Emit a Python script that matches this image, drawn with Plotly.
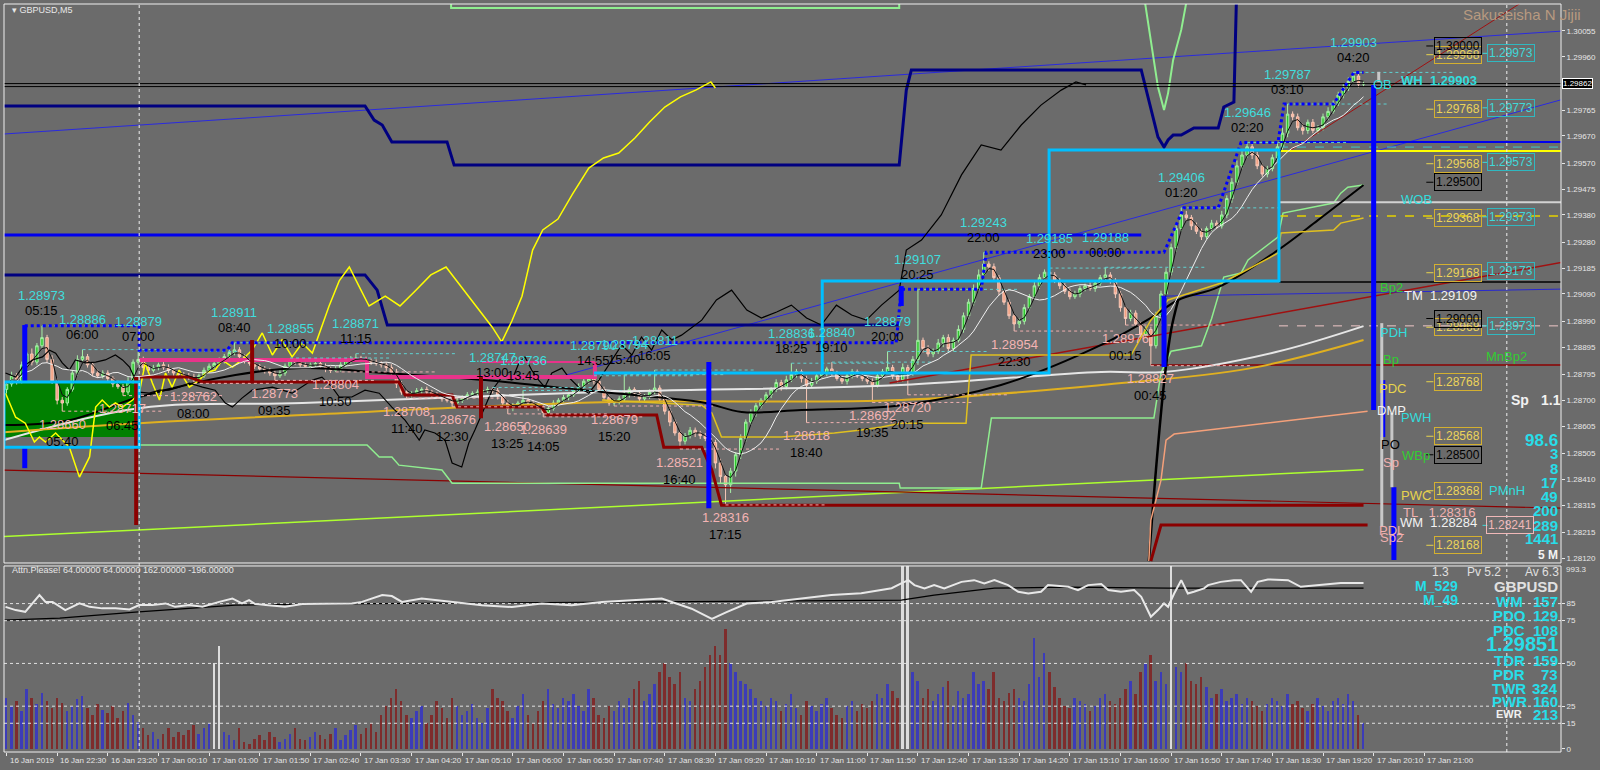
import plotly.graph_objects as go
import pandas as pd

BASE = 1.28
PT = 1e-5


def P(v):
    return BASE + v * PT


# ---------------- candle data (points above 1.28000), bar 0 = 16 Jan 21:40, M5 ----------------
first_open = 740
closes = [
    760, 790, 770, 830, 870, 840, 900, 930, 850, 770,
    700, 690, 740, 800, 850, 860, 830, 800, 790, 800,
    780, 760, 750, 730, 770, 840, 850, 820, 810, 820,
    830, 820, 810, 800, 795, 790, 785, 775, 790, 810,
    825, 835, 845, 860, 875, 885, 860, 845, 835, 825,
    815, 810, 800, 790, 800, 825, 845, 840, 830, 825,
    830, 835, 825, 815, 810, 815, 830, 845, 850, 855,
    850, 845, 840, 835, 830, 820, 800, 760, 730, 720,
    725, 735, 740, 730, 720, 715, 705, 700, 690, 700,
    710, 720, 725, 730, 735, 740, 735, 715, 690, 670,
    680, 690, 700, 690, 680, 670, 655, 670, 690, 700,
    710, 720, 735, 750, 770, 780, 770, 740, 710, 690,
    695, 705, 720, 740, 725, 705, 715, 730, 745, 705,
    660, 620, 580, 550, 570, 590, 580, 570, 560, 545,
    470, 420, 390, 440, 500, 560, 620, 655, 680, 700,
    720, 740, 765, 750, 775, 795, 805, 780, 755, 770,
    790, 800, 815, 800, 780, 770, 790, 805, 790, 780,
    770, 755, 790, 805, 820, 790, 775, 820, 800, 850,
    920, 890, 870, 880, 910, 930, 890, 920, 960, 1010,
    1060, 1110, 1160, 1200, 1190, 1150, 1100, 1060, 1010, 980,
    990, 1040, 1080, 1120, 1150, 1170, 1160, 1140, 1120, 1100,
    1080, 1090, 1110, 1120, 1110, 1130, 1150, 1160, 1140, 1090,
    1040, 1000, 1020, 980, 940, 960, 900, 1010, 1090, 1170,
    1260, 1330, 1380, 1370, 1340, 1320, 1300, 1330, 1350, 1340,
    1380, 1440, 1500, 1560, 1600, 1630, 1600, 1560, 1530, 1550,
    1590, 1630, 1680, 1750, 1740, 1700, 1690, 1720, 1690, 1700,
    1740, 1760, 1790, 1820, 1845, 1870, 1890, 1860, 1862,
]
wick_up = [
    10, 15, 10, 12, 8, 20, 10, 43, 10, 15,
    10, 12, 8, 10, 15, 26, 10, 8, 12, 10,
    10, 8, 12, 10, 15, 10, 29, 10, 8, 10,
    8, 10, 12, 8, 10, 8, 10, 12, 8, 10,
    10, 8, 12, 10, 15, 26, 10, 8, 10, 8,
    8, 10, 8, 10, 12, 10, 10, 8, 10, 8,
    8, 10, 8, 10, 8, 10, 10, 8, 12, 16,
    8, 10, 8, 10, 8, 10, 12, 15, 10, 8,
    8, 10, 8, 10, 8, 10, 8, 10, 8, 10,
    8, 10, 8, 10, 8, 10, 7, 10, 8, 10,
    10, 8, 36, 8, 10, 8, 10, 8, 10, 8,
    10, 8, 10, 12, 10, 10, 10, 8, 10, 8,
    8, 10, 74, 10, 8, 10, 8, 10, 66, 10,
    10, 12, 10, 8, 10, 12, 10, 8, 10, 8,
    10, 15, 10, 12, 10, 15, 10, 12, 10, 8,
    10, 8, 12, 10, 15, 41, 10, 8, 10, 12,
    10, 12, 8, 25, 8, 10, 12, 10, 8, 10,
    8, 10, 12, 10, 59, 10, 8, 15, 10, 12,
    187, 10, 12, 10, 15, 10, 12, 10, 15, 12,
    12, 15, 20, 43, 10, 12, 10, 8, 10, 8,
    10, 12, 10, 15, 12, 10, 15, 10, 8, 10,
    10, 12, 10, 8, 12, 10, 10, 28, 10, 8,
    10, 8, 12, 10, 8, 12, 10, 15, 12, 15,
    15, 20, 26, 15, 10, 12, 10, 8, 12, 10,
    15, 12, 15, 20, 15, 16, 10, 12, 8, 10,
    12, 15, 20, 37, 10, 12, 15, 10, 12, 10,
    12, 15, 10, 12, 15, 15, 13, 10, 8,
]
wick_dn = [
    15, 10, 12, 8, 10, 12, 10, 8, 12, 10,
    15, 30, 10, 8, 10, 8, 10, 12, 8, 10,
    10, 12, 8, 13, 10, 8, 10, 12, 10, 8,
    10, 8, 10, 12, 10, 8, 10, 13, 10, 8,
    8, 10, 8, 10, 8, 10, 12, 10, 8, 10,
    10, 12, 10, 17, 8, 10, 8, 10, 12, 10,
    10, 8, 10, 12, 10, 6, 10, 8, 10, 8,
    10, 8, 10, 8, 10, 12, 10, 15, 10, 12,
    10, 8, 10, 12, 10, 8, 10, 8, 14, 10,
    10, 8, 10, 8, 10, 8, 10, 12, 10, 20,
    10, 8, 10, 12, 10, 8, 16, 10, 8, 10,
    8, 10, 8, 10, 8, 10, 12, 10, 8, 10,
    11, 10, 8, 10, 12, 10, 8, 10, 8, 12,
    12, 15, 10, 29, 12, 10, 15, 12, 10, 15,
    20, 25, 74, 30, 20, 15, 12, 10, 15, 10,
    10, 12, 10, 15, 10, 8, 12, 15, 137, 10,
    10, 8, 12, 10, 8, 10, 12, 10, 8, 10,
    10, 63, 8, 10, 8, 12, 10, 8, 80, 10,
    20, 15, 10, 12, 10, 15, 12, 10, 8, 12,
    10, 12, 10, 8, 15, 12, 15, 10, 12, 26,
    15, 12, 10, 8, 12, 10, 8, 10, 12, 10,
    10, 8, 12, 10, 8, 12, 10, 8, 12, 15,
    15, 24, 10, 12, 15, 10, 73, 10, 12, 15,
    12, 15, 10, 12, 15, 10, 12, 10, 8, 12,
    10, 12, 15, 10, 12, 10, 15, 12, 10, 12,
    10, 12, 10, 15, 12, 10, 15, 12, 10, 12,
    10, 12, 8, 10, 12, 10, 8, 12, 10,
]
volumes = [
    30, 25, 28, 22, 35, 30, 26, 33, 28, 24,
    30, 27, 22, 25, 29, 31, 24, 20, 26, 23,
    21, 25, 18, 22, 27, 20, 16, 12, 8, 10,
    6, 9, 12, 7, 10, 8, 11, 14, 9, 12,
    15, 50, 60, 10, 8, 5, 12, 4, 3, 6,
    8, 5, 10, 7, 4, 6, 9, 12, 6, 5,
    7, 10, 8, 6, 9, 12, 5, 8, 11, 14,
    9, 12, 15, 10, 20, 25, 30, 35, 28, 20,
    18, 22, 25, 15, 20, 28, 24, 18, 30, 25,
    20, 22, 26, 18, 15, 24, 35, 30, 28, 22,
    18, 25, 32, 20, 15, 22, 28, 35, 26, 24,
    30, 28, 32, 25, 22, 35, 30, 20, 18, 25,
    22, 28, 24, 30, 35, 40, 28, 32, 38, 45,
    50, 42, 38, 45, 30, 28, 35, 40, 48, 55,
    60, 55, 70, 50, 45, 40, 38, 35, 30, 28,
    25, 30, 28, 22, 26, 32, 24, 20, 28, 25,
    22, 26, 30, 24, 20, 18, 25, 28, 22, 26,
    24, 28, 32, 30, 38, 34, 30, 110, 110, 45,
    40, 30, 35, 28, 32, 36, 40, 25, 34, 30,
    32, 45, 38, 40, 35, 45, 30, 28, 33, 35,
    30, 28, 38, 65, 42, 56, 45, 36, 30, 25,
    24, 30, 28, 26, 22, 25, 30, 32, 28, 26,
    30, 35, 40, 32, 45, 50, 55, 40, 45, 38,
    110, 48, 45, 50, 40, 38, 42, 36, 30, 32,
    35, 28, 30, 32, 26, 30, 28, 25, 22, 26,
    30, 28, 25, 32, 26, 28, 24, 22, 26, 30,
    25, 22, 28, 30, 26, 32, 28, 20, 15,
]
white_volume_bars = [41, 42, 177, 178, 230]

time_labels = ["16 Jan 2019", "16 Jan 22:30", "16 Jan 23:20", "17 Jan 00:10", "17 Jan 01:00",
               "17 Jan 01:50", "17 Jan 02:40", "17 Jan 03:30", "17 Jan 04:20", "17 Jan 05:10",
               "17 Jan 06:00", "17 Jan 06:50", "17 Jan 07:40", "17 Jan 08:30", "17 Jan 09:20",
               "17 Jan 10:10", "17 Jan 11:00", "17 Jan 11:50", "17 Jan 12:40", "17 Jan 13:30",
               "17 Jan 14:20", "17 Jan 15:10", "17 Jan 16:00", "17 Jan 16:50", "17 Jan 17:40",
               "17 Jan 18:30", "17 Jan 19:20", "17 Jan 20:10", "17 Jan 21:00"]
time_label_bars = list(range(0, 290, 10))

price_ticks = [2055, 1960, 1765, 1670, 1570, 1475, 1380, 1280, 1185, 1090, 990, 895,
               795, 700, 605, 505, 410, 315, 215, 120]
lower_ticks = [85, 75, 50, 25, 15, 0]

# zigzag pivots: (bar, price pts, 'H'/'L', time text)
pivots = [
    (7, 973, 'H', "05:15"), (11, 660, 'L', "05:40"), (15, 886, 'H', "06:00"), (23, 717, 'L', "06:45"),
    (26, 879, 'H', "07:00"), (37, 762, 'L', "08:00"), (45, 911, 'H', "08:40"), (53, 773, 'L', "09:35"),
    (56, 855, 'H', "10:00"), (65, 804, 'L', "10:50"), (69, 871, 'H', "11:15"), (79, 708, 'L', "11:40"),
    (88, 676, 'L', "12:30"), (96, 747, 'H', "13:00"), (99, 650, 'L', "13:25"), (102, 736, 'H', "13:45"),
    (106, 639, 'L', "14:05"), (116, 790, 'H', "14:55"), (120, 679, 'L', "15:20"), (122, 794, 'H', "15:40"),
    (128, 811, 'H', "16:05"), (133, 521, 'L', "16:40"), (142, 316, 'L', "17:15"), (155, 836, 'H', "18:25"),
    (158, 618, 'L', "18:40"), (163, 840, 'H', "19:10"), (171, 692, 'L', "19:35"), (174, 879, 'H', "20:00"),
    (178, 720, 'L', "20:15"), (180, 1107, 'H', "20:25"), (193, 1243, 'H', "22:00"), (199, 954, 'L', "22:30"),
    (206, 1185, 'H', "23:00"), (217, 1188, 'H', "00:00"), (221, 976, 'L', "00:15"), (226, 827, 'L', "00:45"),
    (232, 1406, 'H', "01:20"), (245, 1646, 'H', "02:20"), (253, 1787, 'H', "03:10"), (266, 1903, 'H', "04:20"),
]

# ---------------- indicator lines (bar, price pts) ----------------
navy_upper = [(-0.5, 1780), (70.8, 1780), (72.6, 1728), (74.2, 1710), (76.1, 1648), (87, 1648), (88.4, 1563),
              (176.3, 1563), (177.7, 1838), (178.7, 1912), (224.1, 1912), (226, 1765), (227.4, 1666),
              (228.6, 1629), (229.4, 1655), (230.4, 1673), (232, 1673), (234.5, 1699), (239.3, 1699),
              (240.4, 1776), (242.4, 1794), (243, 2250)]
navy_lower = [(-0.5, 1160), (70.8, 1160), (73.2, 1104), (75.2, 976), (176.3, 976)]
blue_level = [(-0.5, 1306), (224.1, 1306)]
blue_step = [(3.6, 973), (26.2, 973), (26.2, 884), (43.6, 884), (44.6, 911), (175.7, 911), (176.7, 1107),
             (192.5, 1107), (193.5, 1243), (228.6, 1243), (232.5, 1406), (239.3, 1406), (243.8, 1646),
             (251.1, 1646), (252.3, 1787), (262.1, 1787), (266.1, 1903), (268, 1903)]
blue_right = [(251.3, 1648), (307.5, 1648)]
thin_blue_a = [(-0.5, 1677), (307.5, 2055)]
thin_blue_b = [(110, 790), (307.5, 1805)]
red_step = [(26.2, 785), (36.1, 785), (38.7, 767), (77.5, 767), (78.7, 719), (88, 719), (89, 675),
            (105.7, 675), (106.7, 646), (128.4, 646), (129.8, 528), (137.3, 528), (139.3, 444),
            (141.2, 315), (268, 315)]
red_diag = [(-0.5, 444), (307.5, 304)]
red_rise = [(174.4, 763), (307.5, 1207)]
red_steep = [(253.6, 1618), (300, 2169)]
yellowgreen_diag = [(-0.5, 200), (268, 445)]
lgreen_top = [(87.8, 2250), (87.8, 2139), (176.3, 2139), (176.3, 2250)]
lgreen_low = [(26.2, 536), (71.2, 536), (73.6, 492), (76.1, 492), (77.5, 462), (86, 444), (88, 396),
              (176.3, 396), (176.5, 378), (192.5, 378), (194.5, 635), (226.6, 635), (228, 800),
              (230, 880), (236, 900), (238, 1000), (240.4, 1152), (243.8, 1167), (245.2, 1215),
              (251.1, 1299), (252.1, 1387), (262.1, 1424), (263.5, 1460), (264.9, 1482), (268, 1490)]
lgreen_spike = [(224.1, 2250), (226, 2022), (227.4, 1849), (228.6, 1765), (229.4, 1827), (230.4, 1949),
                (232, 2059), (233.9, 2250)]
yellow_osc = [(-0.2, 726), (1.8, 638), (3.7, 616), (5.5, 547), (6.5, 565), (7.7, 547), (9.7, 580), (12.4, 528),
              (14.4, 418), (16.4, 492), (17.6, 675), (18.9, 701), (20.3, 675), (21.5, 690), (22.9, 675),
              (24.9, 701), (26.2, 726), (27.4, 837), (28.8, 763), (30.2, 701), (31.4, 800), (32.7, 748),
              (34.1, 811), (36.1, 748), (38.1, 774), (39.3, 800), (41.2, 811), (42.6, 848), (44.6, 822),
              (46.5, 848), (48.5, 884), (50.5, 947), (52.5, 866), (54.4, 921), (56.4, 859), (58.4, 910),
              (60.4, 873), (61.5, 932), (63.7, 1046), (65.7, 1138), (67.7, 1189), (69.6, 1119), (71.6, 1046),
              (74.8, 1082), (77.7, 1046), (80.7, 1101), (83.8, 1160), (86.8, 1189), (89.7, 1119), (92.7, 1046),
              (95.9, 969), (97.8, 914), (99.8, 991), (101.8, 1082), (103.9, 1251), (105.9, 1325),
              (108.9, 1365), (111.8, 1457), (115, 1552), (117.9, 1589), (120.9, 1607), (124.1, 1662),
              (127, 1721), (130, 1776), (133.1, 1813), (136.1, 1838), (139.1, 1868), (140, 1846)]
black_osc = [(-0.2, 800), (1.8, 785), (3.2, 822), (5.1, 848), (7.1, 859), (8.5, 884), (9.7, 873), (11, 837),
             (12.4, 811), (13.6, 848), (15.6, 837), (17.6, 840), (19.5, 848), (21.5, 866), (22.9, 848),
             (24.3, 822), (25.2, 785), (25.8, 748), (26.2, 730), (28.2, 726), (30.2, 737), (32.1, 737),
             (34.1, 748), (36.1, 763), (38.7, 748), (41.2, 737), (43.2, 690), (44.6, 675), (46.5, 708),
             (48.5, 737), (52.5, 748), (56.4, 726), (60.4, 774), (62.3, 785), (64.3, 748), (65.7, 712),
             (68.2, 712), (70.8, 737), (73.6, 726), (76.1, 675), (78.7, 627), (80.1, 591), (81.5, 554),
             (82.6, 591), (84.6, 580), (86.6, 554), (88, 470), (89.9, 455), (91.3, 543), (92.5, 591),
             (93.9, 653), (95.9, 737), (97.8, 785), (99.8, 774), (101.2, 837), (102.4, 859), (103.7, 811),
             (105.1, 774), (106.3, 748), (107.7, 800), (109.7, 818), (111, 785), (113, 748), (115, 726),
             (117, 774), (119.5, 848), (121.5, 903), (123.5, 866), (125.4, 932), (127.4, 884), (129.4, 958),
             (131.4, 921), (133.3, 939), (137.3, 994), (140.2, 1068), (143.2, 1104), (146.2, 1031),
             (149.1, 1002), (152.1, 1024), (155, 1049), (158, 1002), (160.9, 976), (163.9, 1049),
             (166.9, 1013), (169.8, 994), (172.8, 1049), (176.3, 1104), (177.7, 1251), (180.7, 1288),
             (184.6, 1380), (188.6, 1527), (192.5, 1637), (196.4, 1618), (200.4, 1710), (204.3, 1783),
             (208.3, 1838), (211.2, 1868), (213.2, 1857)]
black_ma = [(-0.5, 609), (12.4, 627), (26.2, 712), (45.2, 793), (58.4, 818), (74.8, 800), (94.5, 774),
            (117.6, 730), (137.3, 693), (145.2, 657), (157, 664), (176.7, 682), (196.4, 756), (216.2, 903),
            (226, 1002), (231.4, 1068), (239.3, 1115), (251.1, 1251), (259, 1361), (268, 1490)]
black_bottom = [(225.6, 110), (227, 444), (228.6, 763), (230, 958), (231.4, 1068)]
white_ma = [(-0.5, 554), (26.2, 671), (58.4, 690), (117.6, 730), (176.7, 756), (216.2, 804), (228.6, 804),
            (250.7, 877), (268, 972)]
gold_ma = [(-0.5, 583), (26.2, 616), (58.4, 646), (117.6, 693), (176.7, 701), (216.2, 756), (245.8, 818),
           (268, 921)]
gold_trail = [(117.6, 701), (137.3, 682), (139.3, 653), (141.2, 565), (153, 565), (163.5, 580), (168.8, 591),
              (172.8, 602), (176.7, 616), (189.5, 616), (190.5, 866), (222.1, 866), (226, 994), (229.4, 1068),
              (239.9, 1130), (243.8, 1167), (251.1, 1240), (251.7, 1314), (262.1, 1325), (263.5, 1350),
              (268, 1369)]
salmon_line = [(225.6, 110), (226, 260), (228, 407), (229, 554), (230.6, 576), (268.8, 660)]
darkred_right = [(226, 110), (228, 242), (268.8, 242)]
pink_thick_a = [(26.2, 848), (71.2, 848)]
pink_thick_b = [(71.2, 848), (71.2, 785), (116.2, 785), (116.2, 840)]
pink_thin = [(93.9, 840), (116.2, 840)]
cyan_line = [(116, 800), (161.1, 800)]
mnbp2_line = [(226, 829), (307.5, 829)]
tm_line = [(228, 1082), (307.5, 1108)]

# horizontal levels on the right side (pts, colour, width, dash)
right_levels = [(1615, '#ffff00', 2, 'solid'), (1629, '#3fc6c6', 1, 'dash'), (1427, '#d2d2d2', 2, 'solid'),
                (1376, '#e6d200', 1.5, 'dash'), (1134, '#000000', 1.5, 'solid'), (973, '#f0c8c8', 1, 'dash')]
price_lines = [1862, 1851]

# vertical bars (bar, top pts, bottom pts)
blue_vbars = [(3.6, 976, 767), (3.6, 528, 451), (138.7, 840, 304), (176.7, 1119, 1046), (228.6, 1082, 822),
              (270, 1857, 664), (271.8, 774, 565), (274, 381, 114)]
gray_vbars = [(271.6, 983, 235), (273.6, 653, 381), (271, 1905, 1868)]
darkred_vbars = [(25.6, 785, 242), (48.5, 921, 763), (93.7, 785, 634)]

# rectangles (x0, x1, low pts, high pts)
cyan_rects = [(-0.5, 26.2, 528, 767), (161.1, 205.9, 800, 1138), (205.9, 251.3, 1138, 1618)]
green_box = (-0.5, 26.2, 565, 767)

# right-side boxed price labels
yellow_levels = [1968, 1768, 1568, 1368, 1168, 968, 768, 568, 368, 168]
cyan_levels = [1973, 1773, 1573, 1373, 1173, 973]
black_levels = [2000, 1500, 1000, 500]
pink_levels = [241]

# right-side text labels: (text, bar, pts, colour, size, bold)
right_texts = [
    ("OB", 271.8, 1860, '#33dddd', 13, False), ("WH  1.29903", 283, 1875, '#33dddd', 13, True),
    ("WOB", 278.5, 1435, '#33dddd', 13, False), ("Bp2", 273.6, 1115, '#32cd32', 13, False),
    ("TM  1.29109", 283.2, 1086, '#f2f2f2', 13, False), ("PDH", 274, 947, '#33dddd', 13, False),
    ("Bp", 273.4, 848, '#32cd32', 13, False), ("MnBp2", 296.3, 862, '#32cd32', 13, False),
    ("PDC", 273.8, 745, '#e8d44d', 13, False), ("DMP", 273.6, 664, '#f2f2f2', 13, False),
    ("PWH", 278.3, 635, '#33dddd', 13, False), ("PO", 273.4, 536, '#000000', 13, False),
    ("WBp", 278.3, 499, '#32cd32', 13, False), ("Sp", 273.4, 473, '#f0b0b0', 13, False),
    ("PWC", 278.3, 352, '#e8d44d', 13, False), ("PMnH", 296.3, 370, '#33dddd', 13, False),
    ("TL   1.28316", 283, 290, '#f0b0b0', 13, False), ("WM  1.28284", 282.8, 253, '#f2f2f2', 13, False),
    ("PDL", 273.6, 224, '#f0b0b0', 13, False), ("Sp2", 273.6, 198, '#f0b0b0', 13, False),
    ("Sp", 299, 701, '#f2f2f2', 14, True), ("1.1", 305, 701, '#f2f2f2', 14, True),
]
stat_numbers = [("98.6", 554, 17), ("3", 506, 15), ("8", 451, 15), ("17", 400, 15), ("49", 348, 15),
                ("200", 297, 15), ("289", 242, 15), ("1441", 194, 15)]

# lower window indicator lines (bar, value)
osc_white = [(-0.2, 83.1), (1.8, 81.2), (3.7, 80.2), (6.5, 90), (7.7, 86), (9.1, 86), (11.6, 81.2), (14.4, 85.1),
             (16.4, 83.1), (18.9, 82.2), (21.5, 82.2), (24.3, 81.6), (26.2, 84.1), (28.8, 84.1), (31.4, 85.1),
             (33.3, 83.1), (36.1, 84.1), (38.7, 83.1), (42, 86), (44.6, 88), (46.5, 85.1), (47.9, 87),
             (49.1, 84.7), (51.9, 84.1), (55, 83.1), (58.4, 84.7), (61.7, 84.7), (64.9, 84.7), (68.2, 85.1),
             (70.2, 86), (72.2, 88), (74.2, 90), (76.1, 89.4), (78.1, 86), (82, 88), (88, 86), (93.9, 84),
             (99.8, 83), (105.7, 85), (111.6, 84), (117.6, 86), (123.5, 87), (129.4, 88), (135.3, 82),
             (139.3, 76), (142.2, 80), (146.2, 85), (151.1, 86), (157, 88), (162.9, 90), (168.8, 91),
             (174.8, 94), (176.7, 96.8), (178.1, 98.7), (179.3, 95.8), (181.3, 93.9), (183.2, 95.8),
             (185.2, 93.9), (188.6, 97.7), (191.1, 98.7), (193.1, 96.8), (195.1, 98.7), (197.8, 95.8),
             (199.8, 91.9), (201.8, 90.9), (204.3, 91.9), (205.7, 95.8), (209.7, 94.8), (211.6, 92.9),
             (213.6, 95.8), (216.2, 96.4), (217.6, 92.9), (220.1, 91.9), (222.7, 92.9), (224.1, 89),
             (226, 77.3), (227.4, 81.2), (228.6, 85.1), (229.4, 83.1), (230.6, 90.9), (232, 98.7),
             (233.3, 90.9), (234.5, 91.9), (236.5, 93.9), (237.3, 95.8), (239.8, 97.7), (242.4, 98.7),
             (243.8, 98.7), (245.8, 91.9), (247.1, 97.7), (249.1, 99.1), (253.1, 98.7), (255.6, 94.8),
             (259.6, 96), (263.5, 97), (268, 97)]
osc_black = [(-0.5, 75.3), (10.5, 76.5), (25.4, 80), (45.2, 84.1), (58.4, 84.7), (117.6, 86), (176.7, 87),
             (183.2, 90), (195.1, 94), (209.7, 94.6), (229.4, 94), (255.6, 94), (268, 94)]
lower_levels = [85, 75, 50, 25, 15]

# lower window text block: (label, value, y value, size)
stat_rows = [("WM", "157", 86.4, 15), ("PDO", "129", 78.3, 15), ("PDC", "108", 69.5, 15),
             ("TDR", "159", 52.0, 15), ("PDR", "73", 43.8, 15), ("TWR", "324", 35.6, 15),
             ("PWR", "160", 28.0, 15), ("EWR", "213", 20.4, 15)]

# ---------------- figure ----------------
BG = '#6b6b6b'
FG = '#e6e6e6'
FONT = "Liberation Sans, Arial, sans-serif"
NARROW = "Liberation Sans Narrow, Arial Narrow, Liberation Sans, Arial, sans-serif"
X0, X1 = -0.5, 307.0
XR = 306.9

bars = list(range(len(closes)))
opens = [first_open] + closes[:-1]
highs = [max(o, c) + u for o, c, u in zip(opens, closes, wick_up)]
lows = [min(o, c) - d for o, c, d in zip(opens, closes, wick_dn)]
close_s = pd.Series(closes, dtype=float)
fast_white = close_s.rolling(10, min_periods=1).mean()
fast_black = close_s.rolling(3, min_periods=1).mean()

fig = go.Figure()


def add_line(pts, color, width, dash='solid', yaxis='y', shape='linear'):
    xs = [p[0] for p in pts]
    if yaxis == 'y':
        ys = [P(p[1]) for p in pts]
    else:
        ys = [p[1] for p in pts]
    fig.add_trace(go.Scatter(x=xs, y=ys, mode='lines', line=dict(color=color, width=width, dash=dash,
                                                                   shape=shape),
                             hoverinfo='skip', showlegend=False, xaxis='x', yaxis=yaxis))


shapes = []
shapes.append(dict(type='rect', xref='x', yref='y', x0=green_box[0], x1=green_box[1], y0=P(green_box[2]),
                   y1=P(green_box[3]), fillcolor='#008000', line=dict(width=0), layer='below'))

add_line(thin_blue_a, '#2a2ae0', 1)
add_line(thin_blue_b, '#2a2ae0', 1)
add_line(yellowgreen_diag, '#adff2f', 1.5)
add_line(red_diag, '#8b0000', 1.2)
add_line(red_rise, '#a01010', 1.5)
add_line(red_steep, '#a01010', 1)
add_line(lgreen_top, '#90ee90', 2)
add_line(lgreen_low, '#90ee90', 1.5)
add_line(lgreen_spike, '#90ee90', 2)
add_line(navy_upper, '#000080', 3)
add_line(navy_lower, '#000080', 3)
add_line(blue_level, '#0000ee', 3)
add_line(blue_right, '#0000ee', 2)
for lv, col, w, dsh in right_levels:
    add_line([(251.3, lv), (307.5, lv)], col, w, dsh)
for lv in price_lines:
    add_line([(-0.5, lv), (307.5, lv)], '#000000', 1)
add_line(mnbp2_line, '#8b0000', 1.5)
add_line(tm_line, '#2828d0', 1)
add_line(white_ma, '#e6e6e6', 2, shape='spline')
add_line(gold_ma, '#e0b020', 2, shape='spline')
add_line(black_ma, '#000000', 2, shape='spline')
add_line(black_bottom, '#000000', 2.5, shape='spline')
add_line(gold_trail, '#e0c020', 1.5)
add_line(salmon_line, '#f4a07a', 1.5)
add_line(darkred_right, '#8b0000', 3)
add_line(yellow_osc, '#ffff00', 1.5)
add_line(black_osc, '#000000', 1.2)
add_line(red_step, '#8b0000', 3)
add_line(pink_thick_a, '#e8338a', 4)
add_line(pink_thick_b, '#e8338a', 4)
add_line(pink_thin, '#e8338a', 2)
add_line(cyan_line, '#00bfff', 3)

for b, pv, kind, t in pivots:
    col = '#5fd0d0' if kind == 'H' else '#f0b0b0'
    add_line([(b, pv), (b + 20, pv)], col, 1, 'dot')

fig.add_trace(go.Candlestick(
    x=bars, open=[P(v) for v in opens], high=[P(v) for v in highs], low=[P(v) for v in lows],
    close=[P(v) for v in closes],
    increasing=dict(line=dict(color='#a8f0a8', width=1), fillcolor='#2ec82e'),
    decreasing=dict(line=dict(color='#f8c8b8', width=1), fillcolor='#f4a081'),
    whiskerwidth=0, hoverinfo='skip', showlegend=False, xaxis='x', yaxis='y'))

fig.add_trace(go.Scatter(x=bars, y=[P(v) for v in fast_white], mode='lines',
                         line=dict(color='#f0f0f0', width=1), hoverinfo='skip', showlegend=False))
fig.add_trace(go.Scatter(x=bars, y=[P(v) for v in fast_black], mode='lines',
                         line=dict(color='#101010', width=1), hoverinfo='skip', showlegend=False))

add_line(blue_step, '#0000ff', 3, 'dot')

for b, top, bot in blue_vbars:
    add_line([(b, top), (b, bot)], '#0000ff', 5)
for b, top, bot in gray_vbars:
    add_line([(b, top), (b, bot)], '#c8c8c8', 3)
for b, top, bot in darkred_vbars:
    add_line([(b, top), (b, bot)], '#8b0000', 4)

for x0, x1, lo, hi in cyan_rects:
    shapes.append(dict(type='rect', xref='x', yref='y', x0=x0, x1=x1, y0=P(lo), y1=P(hi),
                       line=dict(color='#00bfff', width=3), fillcolor='rgba(0,0,0,0)'))

vol_colors = []
for i, (o, c) in enumerate(zip(opens, closes)):
    if i in white_volume_bars:
        vol_colors.append('#dcdcdc')
    elif c >= o:
        vol_colors.append('#3c3cb8')
    else:
        vol_colors.append('#7e2c2c')
fig.add_trace(go.Bar(x=bars, y=volumes, width=0.38, marker=dict(color=vol_colors, line=dict(width=0)),
                     hoverinfo='skip', showlegend=False, xaxis='x', yaxis='y2'))
add_line(osc_black, '#000000', 1.2, yaxis='y2')
add_line(osc_white, '#e8e8e8', 2, yaxis='y2')
for lv in lower_levels:
    shapes.append(dict(type='line', xref='x', yref='y2', x0=X0, x1=X1, y0=lv, y1=lv,
                       line=dict(color='#e0e0e0', width=1, dash='3px,3px')))

for b in [26.2, 296.3]:
    shapes.append(dict(type='line', xref='x', yref='paper', x0=b, x1=b, y0=0, y1=1,
                       line=dict(color='#f0f0f0', width=1, dash='3px,3px')))

for lv in yellow_levels + black_levels:
    shapes.append(dict(type='line', xref='x', yref='y', x0=280.4, x1=281.8, y0=P(lv), y1=P(lv),
                       line=dict(color='#e8d44d' if lv in yellow_levels else '#000000', width=1)))
for lv in cyan_levels + pink_levels:
    shapes.append(dict(type='line', xref='x', yref='y', x0=291.5, x1=292.5, y0=P(lv), y1=P(lv),
                       line=dict(color='#40d8d8', width=1)))

shapes.append(dict(type='rect', xref='paper', yref='paper', x0=0, x1=1, y0=0.2527, y1=1,
                   line=dict(color='#f0f0f0', width=1)))
shapes.append(dict(type='rect', xref='paper', yref='paper', x0=0, x1=1, y0=0, y1=0.2487,
                   line=dict(color='#f0f0f0', width=1)))

ann = []


def text(x, y, s, color, size=13, bold=False, xanchor='center', yanchor='middle', xref='x', yref='y',
         xshift=0, yshift=0, font=FONT, **kw):
    d = dict(x=x, y=y, xref=xref, yref=yref, text=f"<b>{s}</b>" if bold else s, showarrow=False,
             font=dict(color=color, size=size, family=font), xanchor=xanchor, yanchor=yanchor,
             xshift=xshift, yshift=yshift)
    d.update(kw)
    ann.append(d)


for b, pv, kind, t in pivots:
    if kind == 'H':
        text(b, P(pv), f"{P(pv):.5f}", '#40dede', 13, yshift=30)
        text(b, P(pv), t, '#000000', 13, yshift=15)
    else:
        text(b, P(pv), f"{P(pv):.5f}", '#f4b4b4', 13, yshift=-13)
        text(b, P(pv), t, '#000000', 13, yshift=-30)

for lv in yellow_levels:
    text(286.7, P(lv), f"{P(lv):.5f}", '#ecd35a', 12, bordercolor='#d4b030', borderwidth=1, borderpad=1)
for lv in black_levels:
    text(286.7, P(lv), f"{P(lv):.5f}", '#000000', 12, bordercolor='#000000', borderwidth=1, borderpad=1)
for lv in cyan_levels:
    text(297.2, P(lv), f"{P(lv):.5f}", '#40d8d8', 12, bordercolor='#30b8c0', borderwidth=1, borderpad=1)
for lv in pink_levels:
    text(297.0, P(lv), f"{P(lv):.5f}", '#f0b8b8', 12, bordercolor='#f0b8b8', borderwidth=1, borderpad=1)

for s, b, pv, col, sz, bd in right_texts:
    text(b, P(pv), s, col, sz, bd)
for s, pv, sz in stat_numbers:
    text(XR, P(pv), s, '#28dde8', sz, True, xanchor='right')
text(XR, P(132), "5 M", '#f2f2f2', 12, True, xanchor='right')
text(299.2, P(2114), "Sakuseisha N Jijii", '#b89a80', 15)
text(0.6, P(2132), "▾ GBPUSD,M5", '#e8e8e8', 9, xanchor='left')

text(1.0, P(1862), "1.29862", '#ffffff', 8, xref='paper', xanchor='left', xshift=1, bgcolor='#000000',
     bordercolor='#ffffff', borderwidth=1, borderpad=0, font=NARROW)

text(0.6, 104.6, "Attn.Please! 64.00000 64.00000 162.00000 -196.00000", '#e8e8e8', 9, xanchor='left',
     yref='y2')
text(283.2, 103.2, "1.3", '#e0e0e0', 12, yref='y2')
text(291.7, 103.2, "Pv 5.2", '#e0e0e0', 12, yref='y2')
text(303.2, 103.2, "Av 6.3", '#e0e0e0', 12, yref='y2')
text(282.4, 95.2, "M_529", '#28dde8', 14, True, yref='y2')
text(283.2, 87.0, "M_49", '#28dde8', 14, True, yref='y2')
text(XR, 95.2, "GBPUSD", '#e0e0e0', 15, True, xanchor='right', yref='y2')
for lab, val, v, sz in stat_rows:
    lab_col = '#f0f0f0' if lab == 'EWR' else '#28dde8'
    text(296.8, v, lab, lab_col, 15 if lab != 'EWR' else 11, True, yref='y2')
    text(XR, v, val, '#28dde8', sz, True, xanchor='right', yref='y2')
text(XR, 61.3, "1.29851", '#28dde8', 20, True, xanchor='right', yref='y2')
text(1.0, 105.0, "993.3", FG, 8, xref='paper', yref='y2', xanchor='left', xshift=3, font=NARROW)

for b, s in zip(time_label_bars, time_labels):
    text(b, -0.011, s, FG, 8, xanchor='left', yref='paper', xshift=1, font=NARROW)

fig.update_layout(
    width=1600, height=770, margin=dict(l=4, r=37, t=4, b=18),
    paper_bgcolor=BG, plot_bgcolor=BG, showlegend=False, shapes=shapes, annotations=ann,
    bargap=0,
    xaxis=dict(range=[X0, X1], anchor='y2', domain=[0, 1], showgrid=False, zeroline=False,
               tickvals=time_label_bars, ticks='outside', ticklen=3, tickcolor=FG, showticklabels=False,
               rangeslider=dict(visible=False), showline=False, fixedrange=True),
    yaxis=dict(domain=[0.2527, 1], range=[P(103), P(2154)], side='right', anchor='x', showgrid=False,
               zeroline=False, tickvals=[P(v) for v in price_ticks],
               ticktext=[f"{P(v):.5f}" for v in price_ticks], ticks='outside', ticklen=3, tickcolor=FG,
               tickfont=dict(color=FG, size=8, family=NARROW), showline=False),
    yaxis2=dict(domain=[0, 0.2487], range=[-1.8, 107], side='right', anchor='x', showgrid=False,
                zeroline=False, tickvals=lower_ticks, ticktext=[str(v) for v in lower_ticks],
                ticks='outside', ticklen=3, tickcolor=FG,
                tickfont=dict(color=FG, size=8, family=NARROW), showline=False),
)

fig.write_html("out.html", config={'displayModeBar': False},
               post_script="document.body.style.margin='0';document.body.style.overflow='hidden';")
